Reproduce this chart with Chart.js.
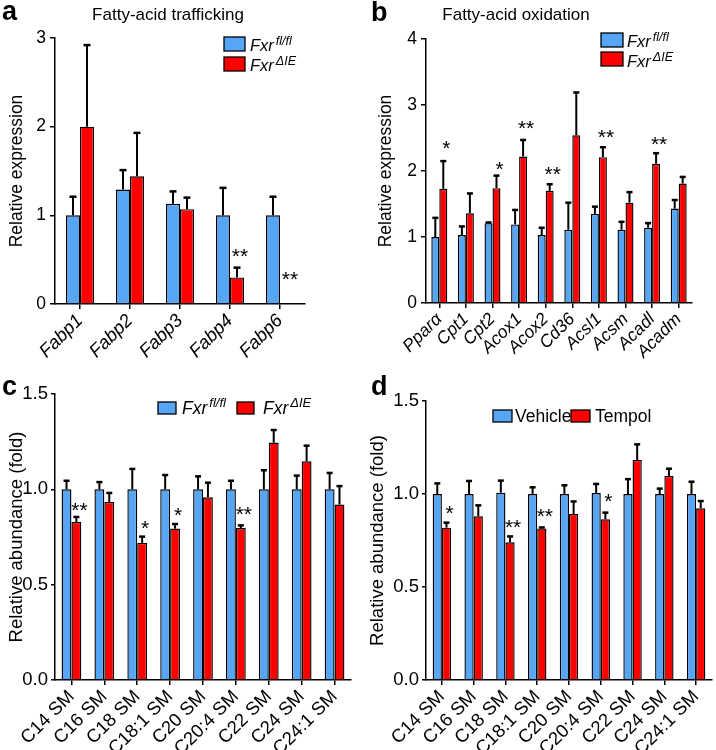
<!DOCTYPE html>
<html><head><meta charset="utf-8">
<script src="https://cdn.jsdelivr.net/npm/chart.js@4.4.1/dist/chart.umd.min.js"></script>
<style>
html,body{margin:0;padding:0;background:#fff;}
#wrap{position:relative;width:716px;height:750px;overflow:hidden;background:#fff;}
canvas{position:absolute;}
</style></head><body>
<div id="wrap">
<canvas id="ca" width="358" height="370" style="left:0px;top:0px"></canvas>
<canvas id="cb" width="358" height="370" style="left:358px;top:0px"></canvas>
<canvas id="cc" width="358" height="380" style="left:0px;top:370px"></canvas>
<canvas id="cd" width="358" height="380" style="left:358px;top:370px"></canvas>
</div>
<script>
// ---------- Panel a: Fatty-acid trafficking ----------
const catsA = ['Fabp1','Fabp2','Fabp3','Fabp4','Fabp6'];
const ctrlA = [1.00, 1.29, 1.13, 1.00, 1.00];
const ctrlErrA = [0.21, 0.22, 0.14, 0.31, 0.21];
const koA = [2.00, 1.44, 1.07, 0.30, 0.01];
const koErrA = [0.92, 0.49, 0.13, 0.11, 0.00];
const sigA = ['', '', '', '**', '**'];
const sigLevelA = [null, null, null, 0.574, 0.319];
const yTicksA = [0, 1, 2, 3];
const yTickLabelsA = ['0', '1', '2', '3'];

// ---------- Panel b: Fatty-acid oxidation ----------
const catsB = ['Ppar\u03B1','Cpt1','Cpt2','Acox1','Acox2','Cd36','Acsl1','Acsm','Acadl','Acadm'];
const ctrlB = [1.00, 1.03, 1.21, 1.19, 1.03, 1.11, 1.35, 1.11, 1.14, 1.43];
const ctrlErrB = [0.29, 0.13, 0.01, 0.22, 0.11, 0.41, 0.11, 0.12, 0.07, 0.13];
const koB = [1.73, 1.36, 1.74, 2.22, 1.70, 2.54, 2.21, 1.52, 2.11, 1.81];
const koErrB = [0.42, 0.30, 0.19, 0.25, 0.10, 0.65, 0.15, 0.16, 0.16, 0.10];
const sigB = ['*', '', '*', '**', '**', '', '**', '', '**', ''];
const sigLevelB = [2.39, null, 2.08, 2.69, 2.00, null, 2.56, null, 2.45, null];
const yTicksB = [0, 1, 2, 3, 4];
const yTickLabelsB = ['0', '1', '2', '3', '4'];

// ---------- Panel c: SM species, Fxr fl/fl vs Fxr ΔIE ----------
const catsC = ['C14 SM','C16 SM','C18 SM','C18:1 SM','C20 SM','C20:4 SM','C22 SM','C24 SM','C24:1 SM'];
const ctrlC = [1.00, 1.00, 1.00, 1.00, 1.00, 1.00, 1.00, 1.00, 1.00];
const ctrlErrC = [0.045, 0.038, 0.107, 0.075, 0.068, 0.045, 0.100, 0.072, 0.086];
const koC = [0.829, 0.934, 0.719, 0.794, 0.958, 0.797, 1.245, 1.147, 0.920];
const koErrC = [0.026, 0.047, 0.033, 0.024, 0.077, 0.014, 0.066, 0.082, 0.097];
const sigC = ['**', '', '*', '*', '', '**', '', '', ''];
const sigLevelC = [0.907, null, 0.815, 0.883, null, 0.888, null, null, null];
const yTicksC = [0, 0.5, 1.0, 1.5];
const yTickLabelsC = ['0.0', '0.5', '1.0', '1.5'];

// ---------- Panel d: SM species, Vehicle vs Tempol ----------
const catsD = ['C14 SM','C16 SM','C18 SM','C18:1 SM','C20 SM','C20:4 SM','C22 SM','C24 SM','C24:1 SM'];
const vehD = [1.000, 1.000, 1.007, 1.000, 1.000, 1.005, 1.000, 1.000, 1.000];
const vehErrD = [0.057, 0.070, 0.065, 0.036, 0.047, 0.049, 0.080, 0.029, 0.066];
const tempD = [0.819, 0.880, 0.740, 0.815, 0.893, 0.864, 1.183, 1.097, 0.923];
const tempErrD = [0.027, 0.059, 0.032, 0.005, 0.067, 0.036, 0.084, 0.039, 0.039];
const sigD = ['*', '', '**', '**', '', '*', '', '', ''];
const sigLevelD = [0.914, null, 0.840, 0.900, null, 0.980, null, null, null];
const yTicksD = [0, 0.5, 1.0, 1.5];
const yTickLabelsD = ['0.0', '0.5', '1.0', '1.5'];

// ---------- drawing ----------
const FONT = '"Liberation Sans", Arial, Helvetica, sans-serif';
const BLUE = '#56a6f5';
const RED = '#ff0000';

function makeExtras(cfg) {
  return {
    id: 'extras_' + cfg.id,
    afterDatasetsDraw(chart) {
      const ctx = chart.ctx;
      const ys = chart.scales.y;
      ctx.save();
      ctx.strokeStyle = '#000';
      chart.data.datasets.forEach((ds, i) => {
        const meta = chart.getDatasetMeta(i);
        meta.data.forEach((bar, j) => {
          const e = cfg.errs[i][j];
          if (!e) return;
          const top = ys.getPixelForValue(ds.data[j] + e);
          const x = bar.x;
          ctx.lineWidth = 2;
          ctx.beginPath();
          ctx.moveTo(x, bar.y);
          ctx.lineTo(x, top);
          ctx.stroke();
          ctx.lineWidth = 2.5;
          ctx.beginPath();
          ctx.moveTo(x - cfg.cap / 2, top);
          ctx.lineTo(x + cfg.cap / 2, top);
          ctx.stroke();
        });
      });
      // significance stars over second series
      const meta2 = chart.getDatasetMeta(1);
      ctx.fillStyle = '#000';
      ctx.font = cfg.starFont;
      ctx.textAlign = 'center';
      ctx.textBaseline = 'alphabetic';
      cfg.sig.forEach((s, j) => {
        if (!s) return;
        const m = ctx.measureText(s);
        const cy = ys.getPixelForValue(cfg.sigLevel[j]);
        const base = cy + (m.actualBoundingBoxAscent - m.actualBoundingBoxDescent) / 2;
        ctx.fillText(s, meta2.data[j].x + 3, base);
      });
      ctx.restore();
    },
    afterDraw(chart) {
      const ctx = chart.ctx;
      ctx.save();
      ctx.fillStyle = '#000';
      // panel letter
      ctx.font = 'bold 27px ' + FONT;
      ctx.textAlign = 'left';
      ctx.textBaseline = 'alphabetic';
      ctx.fillText(cfg.letter.text, cfg.letter.x, cfg.letter.y);
      // title
      if (cfg.title) {
        ctx.font = '17px ' + FONT;
        ctx.textAlign = 'center';
        ctx.fillText(cfg.title.text, cfg.title.x, cfg.title.y);
      }
      // legend
      ctx.textAlign = 'left';
      cfg.legend.forEach(it => {
        ctx.fillStyle = it.color;
        ctx.fillRect(it.box[0], it.box[1], it.box[2], it.box[3]);
        ctx.strokeStyle = '#000';
        ctx.lineWidth = 1.3;
        ctx.strokeRect(it.box[0], it.box[1], it.box[2], it.box[3]);
        ctx.fillStyle = '#000';
        ctx.font = (it.italic ? 'italic ' : '') + it.size + 'px ' + FONT;
        ctx.fillText(it.text, it.tx, it.ty);
        if (it.sup) {
          const w = ctx.measureText(it.text).width;
          ctx.font = (it.italic ? 'italic ' : '') + it.supSize + 'px ' + FONT;
          ctx.fillText(it.sup, it.tx + w + 2, it.ty - it.supRaise);
        }
      });
      ctx.restore();
    }
  };
}

function makeChart(cfg) {
  const el = document.getElementById(cfg.id);
  return new Chart(el, {
    type: 'bar',
    data: {
      labels: cfg.cats,
      datasets: [
        { data: cfg.s1, backgroundColor: BLUE, borderColor: '#000', borderWidth: 1.4,
          categoryPercentage: cfg.catPct, barPercentage: 1.0 },
        { data: cfg.s2, backgroundColor: RED, borderColor: '#000', borderWidth: 1.4,
          categoryPercentage: cfg.catPct, barPercentage: 1.0 }
      ]
    },
    options: {
      responsive: false,
      animation: false,
      devicePixelRatio: 1,
      layout: { padding: { left: 0, top: cfg.padTop, right: cfg.padRight, bottom: 0 } },
      plugins: { legend: { display: false }, tooltip: { enabled: false }, title: { display: false } },
      scales: {
        x: {
          type: 'category',
          offset: true,
          grid: { offset: false, drawOnChartArea: false, drawTicks: true, tickLength: 5, color: '#000', lineWidth: 1.5 },
          border: { color: '#000', width: 1.5 },
          ticks: { color: '#000', autoSkip: false, maxRotation: 45, minRotation: 45, padding: 1,
                   font: { family: FONT, size: cfg.xFont, style: cfg.xItalic ? 'italic' : 'normal' } },
          afterFit: s => { s.height = cfg.xHeight; }
        },
        y: {
          min: 0,
          max: cfg.yTicks[cfg.yTicks.length - 1],
          afterBuildTicks: s => { s.ticks = cfg.yTicks.map(v => ({ value: v })); },
          grid: { drawOnChartArea: false, drawTicks: true, tickLength: cfg.yTickLen, color: '#000', lineWidth: 1.5 },
          border: { color: '#000', width: 1.5 },
          ticks: { color: '#000', padding: cfg.yTickPad, font: { family: FONT, size: cfg.yFont },
                   callback: (v, i) => cfg.yLabels[i] },
          title: { display: true, text: cfg.yTitle, color: '#000',
                   font: { family: FONT, size: cfg.yTitleFont }, padding: { top: cfg.yTitlePad, bottom: 0 } },
          afterFit: s => { s.width = cfg.yWidth; }
        }
      }
    },
    plugins: [makeExtras(cfg)]
  });
}

makeChart({
  id: 'ca', cats: catsA, s1: ctrlA, s2: koA, errs: [ctrlErrA, koErrA],
  sig: sigA, sigLevel: sigLevelA, yTicks: yTicksA, yLabels: yTickLabelsA,
  catPct: 0.56, padTop: 38, padRight: 53, xHeight: 66, yWidth: 55,
  xFont: 18.5, xItalic: true, yFont: 17.5, yTickLen: 5, yTickPad: 4,
  yTitle: 'Relative expression', yTitleFont: 17.5, yTitlePad: 6.5,
  cap: 7, starFont: '21px ' + FONT,
  letter: { text: 'a', x: 2, y: 20 },
  title: { text: 'Fatty-acid trafficking', x: 168, y: 20 },
  legend: [
    { color: BLUE, box: [224, 37, 21, 14], text: 'Fxr', tx: 250, ty: 51, italic: true, size: 16.5, sup: 'fl/fl', supSize: 12.5, supRaise: 6 },
    { color: RED, box: [224, 57, 21, 14], text: 'Fxr', tx: 250, ty: 71, italic: true, size: 16.5, sup: '\u0394IE', supSize: 12.5, supRaise: 6 }
  ]
});

makeChart({
  id: 'cb', cats: catsB, s1: ctrlB, s2: koB, errs: [ctrlErrB, koErrB],
  sig: sigB, sigLevel: sigLevelB, yTicks: yTicksB, yLabels: yTickLabelsB,
  catPct: 0.6, padTop: 39, padRight: 24, xHeight: 67, yWidth: 68,
  xFont: 17.5, xItalic: true, yFont: 17.5, yTickLen: 5, yTickPad: 4,
  yTitle: 'Relative expression', yTitleFont: 17.5, yTitlePad: 18,
  cap: 6, starFont: '21px ' + FONT,
  letter: { text: 'b', x: 13, y: 21 },
  title: { text: 'Fatty-acid oxidation', x: 158, y: 20 },
  legend: [
    { color: BLUE, box: [243, 33, 22, 14], text: 'Fxr', tx: 269, ty: 47, italic: true, size: 16.5, sup: 'fl/fl', supSize: 12.5, supRaise: 6 },
    { color: RED, box: [243, 52, 22, 14], text: 'Fxr', tx: 269, ty: 67, italic: true, size: 16.5, sup: '\u0394IE', supSize: 12.5, supRaise: 6 }
  ]
});

makeChart({
  id: 'cc', cats: catsC, s1: ctrlC, s2: koC, errs: [ctrlErrC, koErrC],
  sig: sigC, sigLevel: sigLevelC, yTicks: yTicksC, yLabels: yTickLabelsC,
  catPct: 0.6, padTop: 24, padRight: 7, xHeight: 70, yWidth: 55,
  xFont: 18.5, xItalic: false, yFont: 18.5, yTickLen: 4, yTickPad: 3,
  yTitle: 'Relative abundance (fold)', yTitleFont: 18.5, yTitlePad: 5.5,
  cap: 6, starFont: '21px ' + FONT,
  letter: { text: 'c', x: 2, y: 25 },
  title: null,
  legend: [
    { color: BLUE, box: [158, 32, 18, 12], text: 'Fxr', tx: 182, ty: 44, italic: true, size: 17.5, sup: 'fl/fl', supSize: 13, supRaise: 7 },
    { color: RED, box: [237, 32, 17, 12], text: 'Fxr', tx: 263, ty: 44, italic: true, size: 17.5, sup: '\u0394IE', supSize: 13, supRaise: 7 }
  ]
});

makeChart({
  id: 'cd', cats: catsD, s1: vehD, s2: tempD, errs: [vehErrD, tempErrD],
  sig: sigD, sigLevel: sigLevelD, yTicks: yTicksD, yLabels: yTickLabelsD,
  catPct: 0.58, padTop: 31, padRight: 4, xHeight: 70, yWidth: 68,
  xFont: 18.5, xItalic: false, yFont: 18.5, yTickLen: 4, yTickPad: 3,
  yTitle: 'Relative abundance (fold)', yTitleFont: 18.5, yTitlePad: 9,
  cap: 6, starFont: '21px ' + FONT,
  letter: { text: 'd', x: 13, y: 25 },
  title: null,
  legend: [
    { color: BLUE, box: [135, 40, 19, 12], text: 'Vehicle', tx: 157, ty: 52, italic: false, size: 17.5 },
    { color: RED, box: [213, 40, 19, 12], text: 'Tempol', tx: 237, ty: 52, italic: false, size: 17.5 }
  ]
});
</script>
</body></html>
